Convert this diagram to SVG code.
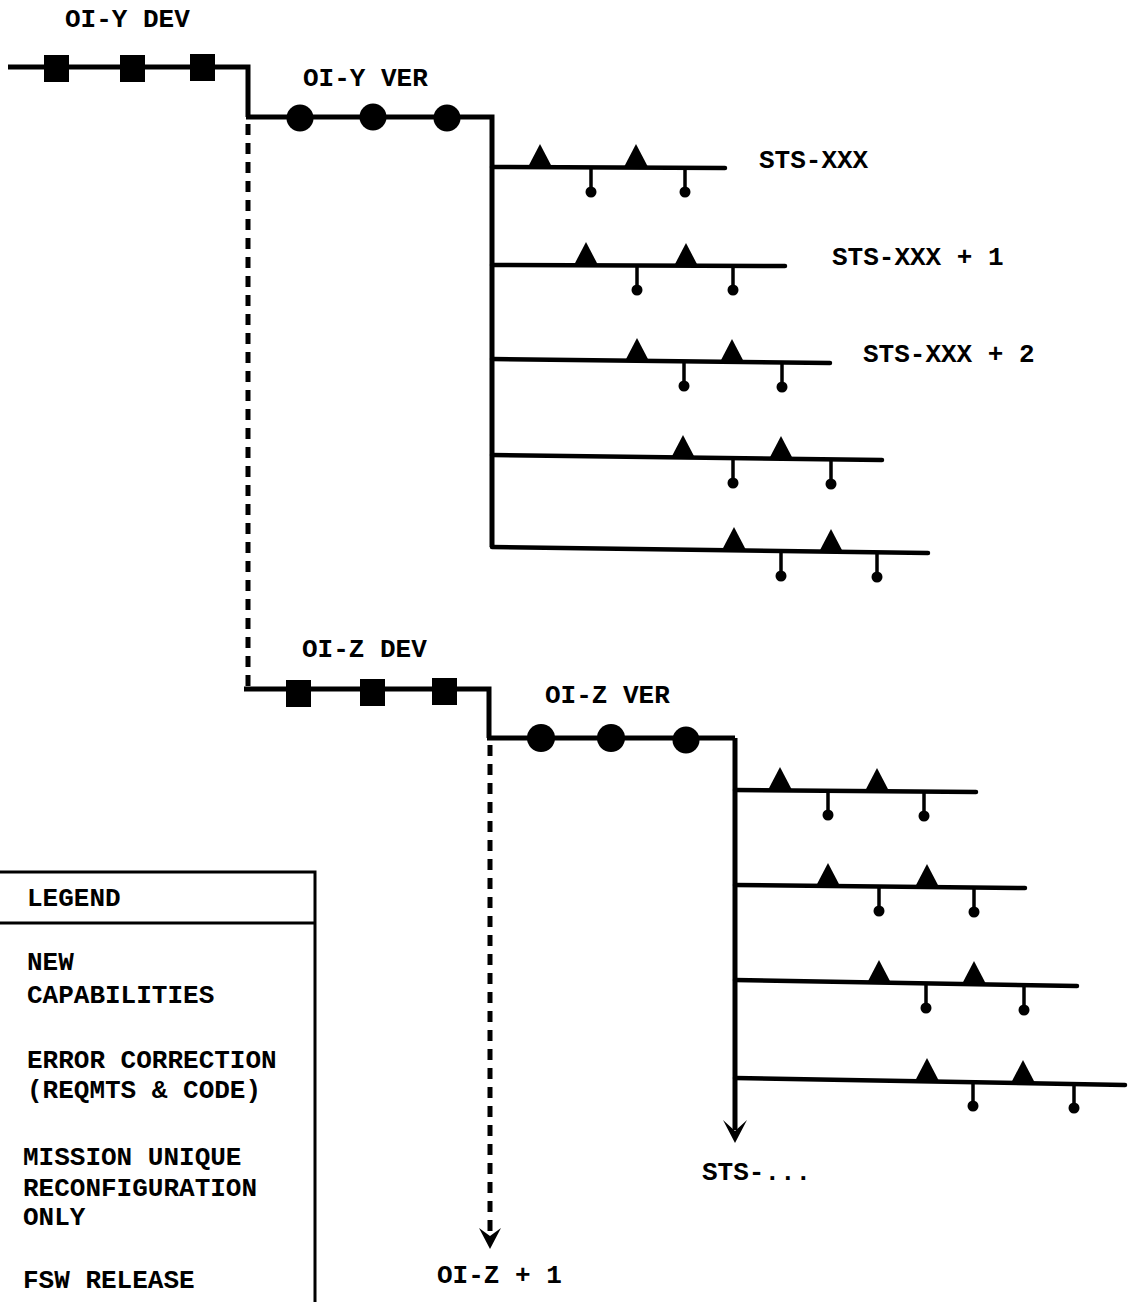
<svg xmlns="http://www.w3.org/2000/svg" width="1129" height="1302" viewBox="0 0 1129 1302">
<defs>
<style>
text{font-family:"Liberation Mono","Courier New",monospace;font-weight:bold;font-size:26px;fill:#000}
.main{fill:none;stroke:#000;stroke-width:5;stroke-linejoin:miter;stroke-linecap:butt}
.ms{fill:none;stroke:#000;stroke-width:4.5;stroke-linecap:round}
.pin{stroke:#000;stroke-width:3.5}
.dash{fill:none;stroke:#000;stroke-width:5;stroke-dasharray:11 8;stroke-linecap:butt}
.blk{fill:#000}
</style>
<g id="tri"><path class="blk" d="M-12,0 L0,-23 L12,0 Z"/></g>
<g id="pin"><line class="pin" x1="0" y1="0" x2="0" y2="21"/><circle class="blk" cx="0" cy="24" r="5.5"/></g>
<rect id="sq" class="blk" x="-12" y="-13" width="25" height="27"/>
</defs>
<rect width="1129" height="1302" fill="#fff"/>

<g id="connectors">
<path class="dash" d="M248,124 V688"/>
<path class="dash" d="M490,745 V1232"/>
<path class="blk" d="M479,1228 L490,1249 L501,1228 L490,1236 Z"/>
<path class="main" d="M735,738 V1130"/>
<path class="blk" d="M723,1120 L735,1143 L747,1120 L735,1131 Z"/>
</g>

<g id="oi-y-dev">
<text x="65" y="27">OI-Y DEV</text>
<path class="main" d="M8,67 H248 V117"/>
<use href="#sq" x="56" y="68"/>
<use href="#sq" x="132" y="68"/>
<use href="#sq" x="202" y="67"/>
</g>

<g id="oi-y-ver">
<text x="303" y="86">OI-Y VER</text>
<path class="main" d="M246,117 H492 V547"/>
<circle class="blk" cx="300" cy="118" r="13.5"/>
<circle class="blk" cx="373" cy="117" r="13.5"/>
<circle class="blk" cx="447" cy="118" r="13.5"/>
</g>

<g id="sts-xxx">
<path class="ms" d="M492,167 L725,168"/>
<use href="#tri" x="540" y="167"/><use href="#tri" x="636" y="167"/>
<use href="#pin" x="591" y="168"/><use href="#pin" x="685" y="168"/>
<text x="759" y="168">STS-XXX</text>
</g>
<g id="sts-xxx-1">
<path class="ms" d="M492,265 L785,266"/>
<use href="#tri" x="586" y="265"/><use href="#tri" x="686" y="266"/>
<use href="#pin" x="637" y="266"/><use href="#pin" x="733" y="266"/>
<text x="832" y="265">STS-XXX + 1</text>
</g>
<g id="sts-xxx-2">
<path class="ms" d="M492,359 L830,363"/>
<use href="#tri" x="637" y="361"/><use href="#tri" x="732" y="362"/>
<use href="#pin" x="684" y="362"/><use href="#pin" x="782" y="363"/>
<text x="863" y="362">STS-XXX + 2</text>
</g>
<g id="sts-xxx-3">
<path class="ms" d="M492,455 L882,460"/>
<use href="#tri" x="683" y="458"/><use href="#tri" x="781" y="459"/>
<use href="#pin" x="733" y="459"/><use href="#pin" x="831" y="460"/>
</g>
<g id="sts-xxx-4">
<path class="ms" d="M492,547 L928,553"/>
<use href="#tri" x="734" y="550"/><use href="#tri" x="831" y="552"/>
<use href="#pin" x="781" y="552"/><use href="#pin" x="877" y="553"/>
</g>

<g id="oi-z-dev">
<text x="302" y="657">OI-Z DEV</text>
<path class="main" d="M244,689 H489 V738"/>
<use href="#sq" x="298" y="693"/>
<use href="#sq" x="372" y="692"/>
<use href="#sq" x="444" y="691"/>
</g>

<g id="oi-z-ver">
<text x="545" y="703">OI-Z VER</text>
<path class="main" d="M487,738 H735"/>
<circle class="blk" cx="541" cy="738" r="14"/>
<circle class="blk" cx="611" cy="738" r="14"/>
<circle class="blk" cx="686" cy="740" r="13.5"/>
</g>

<g id="sts-z-1">
<path class="ms" d="M735,790 L976,792"/>
<use href="#tri" x="780" y="790"/><use href="#tri" x="877" y="791"/>
<use href="#pin" x="828" y="791"/><use href="#pin" x="924" y="792"/>
</g>
<g id="sts-z-2">
<path class="ms" d="M735,885 L1025,888"/>
<use href="#tri" x="828" y="886"/><use href="#tri" x="927" y="887"/>
<use href="#pin" x="879" y="887"/><use href="#pin" x="974" y="888"/>
</g>
<g id="sts-z-3">
<path class="ms" d="M735,980 L1077,986"/>
<use href="#tri" x="879" y="983"/><use href="#tri" x="974" y="984"/>
<use href="#pin" x="926" y="984"/><use href="#pin" x="1024" y="986"/>
</g>
<g id="sts-z-4">
<path class="ms" d="M735,1078 L1125,1085"/>
<use href="#tri" x="927" y="1081"/><use href="#tri" x="1023" y="1083"/>
<use href="#pin" x="973" y="1082"/><use href="#pin" x="1074" y="1084"/>
</g>

<g id="sts-next"><text x="702" y="1180">STS-...</text></g>
<g id="oi-z-plus-1"><text x="437" y="1283">OI-Z + 1</text></g>

<g id="legend">
<path fill="none" stroke="#000" stroke-width="3" d="M-5,872 H315 V1310"/>
<line x1="-5" y1="923" x2="315" y2="923" stroke="#000" stroke-width="3"/>
<text x="27" y="906">LEGEND</text>
<text x="27" y="970">NEW</text>
<text x="27" y="1003">CAPABILITIES</text>
<text x="27" y="1068">ERROR CORRECTION</text>
<text x="27" y="1098">(REQMTS &amp; CODE)</text>
<text x="23" y="1165">MISSION UNIQUE</text>
<text x="23" y="1196">RECONFIGURATION</text>
<text x="23" y="1225">ONLY</text>
<text x="23" y="1288">FSW RELEASE</text>
</g>
</svg>
